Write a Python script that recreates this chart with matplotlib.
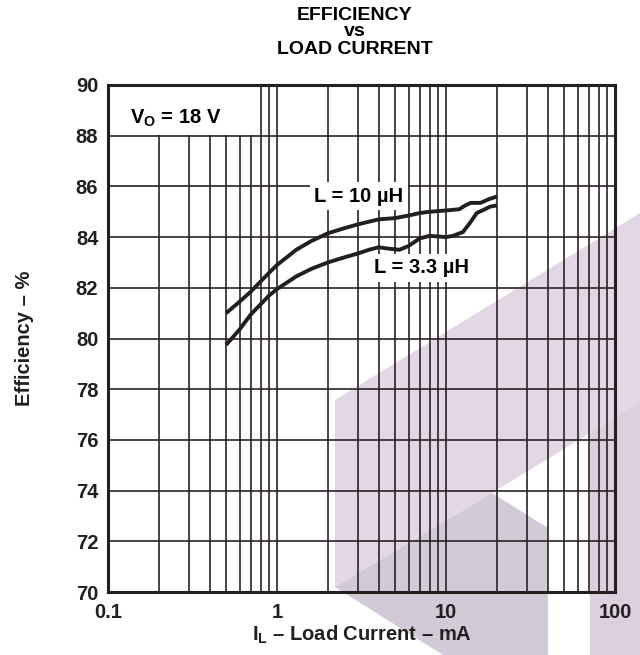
import matplotlib
matplotlib.use("Agg")
import matplotlib.pyplot as plt
from matplotlib.patches import Polygon, Rectangle

plt.rcParams["font.family"] = ["Liberation Sans", "DejaVu Sans"]
plt.rcParams["font.weight"] = "bold"
plt.rcParams["axes.labelweight"] = "bold"
plt.rcParams["mathtext.fontset"] = "custom"
plt.rcParams["mathtext.rm"] = "Liberation Sans:bold"
plt.rcParams["mathtext.it"] = "Liberation Sans:bold"
plt.rcParams["mathtext.bf"] = "Liberation Sans:bold"

# data
current_10uh = [0.5, 0.6, 0.7, 0.8, 0.9, 1.0, 1.3, 1.6, 2.0, 2.5, 3.0, 4.0,
                5.0, 6.0, 7.0, 8.0, 10.0, 12.0, 13.0, 14.0, 16.0, 18.0, 20.0]
eff_10uh = [81.0, 81.45, 81.85, 82.25, 82.6, 82.9, 83.5, 83.85, 84.15, 84.35,
            84.5, 84.7, 84.75, 84.85, 84.95, 85.0, 85.05, 85.1, 85.25, 85.35,
            85.35, 85.5, 85.6]

current_3uh3 = [0.5, 0.6, 0.7, 0.8, 0.9, 1.0, 1.3, 1.6, 2.0, 2.5, 3.0, 3.5,
                4.0, 4.5, 5.3, 6.0, 7.0, 8.0, 10.0, 11.0, 12.6, 14.0, 15.2,
                17.0, 18.2, 20.0]
eff_3uh3 = [79.75, 80.35, 80.95, 81.35, 81.7, 81.95, 82.45, 82.75, 83.0, 83.2,
            83.35, 83.5, 83.6, 83.55, 83.5, 83.65, 83.95, 84.05, 84.0, 84.05,
            84.2, 84.6, 84.95, 85.1, 85.2, 85.25]

y_ticks = list(range(70, 91, 2))
x_ticks = [0.1, 1, 10, 100]
x_ticklabels = ["0.1", "1", "10", "100"]

W, H = 640, 655
fig = plt.figure(figsize=(W / 100, H / 100), dpi=100)

# background axes holding the watermark, in pixel coords of the figure
bg = fig.add_axes([0, 0, 1, 1], zorder=-1)
bg.set_xlim(0, W)
bg.set_ylim(H, 0)
bg.axis("off")
wm = [
    ([(335, 400), (640, 213), (640, 402), (590, 433), (492, 493), (335, 587)], "#e4d7e5"),
    ([(590, 433), (640, 402), (640, 655), (590, 655)], "#ddd0de"),
    ([(335, 587), (492, 493), (548, 528), (548, 655), (443, 655)], "#d2cad7"),
]
for pts, col in wm:
    bg.add_patch(Polygon(pts, closed=True, facecolor=col, edgecolor="none"))

ax = fig.add_axes([108 / W, 1 - 592 / H, 507 / W, 507 / H], zorder=1)
ax.set_facecolor("none")
ax.set_xscale("log")
ax.set_xlim(0.1, 100)
ax.set_ylim(70, 90)

ax.plot(current_10uh, eff_10uh, color="#231f20", lw=2.8, solid_capstyle="butt", zorder=4)
ax.plot(current_3uh3, eff_3uh3, color="#231f20", lw=2.8, solid_capstyle="butt", zorder=4)

ax.set_xticks(x_ticks)
ax.set_xticklabels(x_ticklabels)
ax.set_yticks(y_ticks)
ax.tick_params(axis="both", which="both", length=0, labelsize=14.5, colors="#231f20")
ax.tick_params(axis="x", pad=8)
ax.tick_params(axis="y", pad=7)
ax.grid(True, which="both", axis="x", color="#2a2226", lw=1.2)
ax.grid(True, which="major", axis="y", color="#2a2226", lw=1.2)
for s in ax.spines.values():
    s.set_linewidth(2.2)
    s.set_color("#231f20")
    s.set_zorder(6)

ax.set_xlabel(r"I$_\mathrm{L}$ – Load Current – mA", fontsize=14.5, labelpad=1,
              color="#231f20")
ax.set_ylabel("Efficiency – %", fontsize=14.5, labelpad=30, color="#231f20")

# labels with white boxes covering the grid
ax.add_patch(Rectangle((7 / 507, 1 - 50 / 507), 138 / 507, 50 / 507,
                       transform=ax.transAxes, facecolor="white", edgecolor="none", zorder=3))
ax.text(22 / 507, 1 - 33 / 507, r"V$_\mathrm{O}$ = 18 V", transform=ax.transAxes,
        fontsize=14.5, va="center", ha="left", zorder=5)

ax.text(10 ** (-1 + (359 - 108) / 169), 70 + (592 - 196) / 25.35,
        "L = 10 µH", fontsize=14.5, ha="center", va="center", zorder=5,
        bbox=dict(boxstyle="square,pad=0.2", facecolor="white", edgecolor="none"))
ax.text(10 ** (-1 + (421 - 108) / 169), 70 + (592 - 268) / 25.35,
        "L = 3.3 µH", fontsize=14.5, ha="center", va="center", zorder=5,
        bbox=dict(boxstyle="square,pad=0.2", facecolor="white", edgecolor="none"))

fig.text(355 / W, 1 - 15 / H, "EFFICIENCY", ha="center", va="center", fontsize=14)
fig.text(355 / W, 1 - 32 / H, "vs", ha="center", va="center", fontsize=14)
fig.text(355 / W, 1 - 49 / H, "LOAD CURRENT", ha="center", va="center", fontsize=14)

fig.savefig("out.png", dpi=100, facecolor="white")
